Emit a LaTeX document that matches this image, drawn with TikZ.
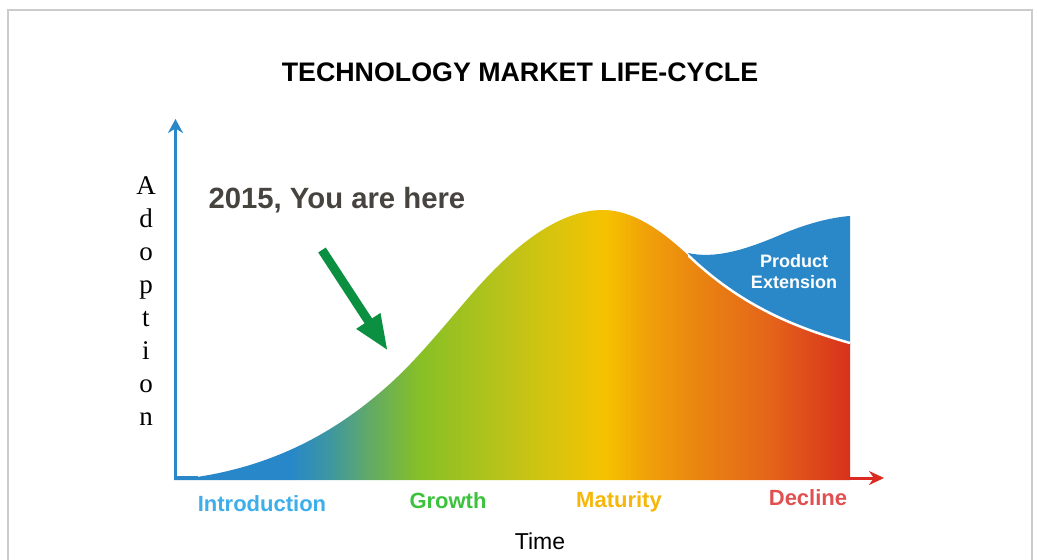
\documentclass[tikz,border=0pt]{standalone}
\usepackage{fontspec}
\setmainfont{Liberation Sans}
\newfontfamily\serifadopt{Liberation Serif}
\usetikzlibrary{arrows.meta}
\definecolor{axisblue}{HTML}{2A88C8}
\definecolor{axisred}{HTML}{DC2A20}
\definecolor{arrowgreen}{HTML}{0A9040}
\definecolor{framegray}{HTML}{CCCCCC}
\definecolor{herecol}{HTML}{474440}
\definecolor{introcol}{HTML}{3DAEE9}
\definecolor{growcol}{HTML}{3CC23C}
\definecolor{matcol}{HTML}{F5B80A}
\definecolor{declcol}{HTML}{E05050}
\definecolor{extblue}{HTML}{2A88C8}
\definecolor{g0}{HTML}{2787C8}
\definecolor{g1}{HTML}{2787C8}
\definecolor{g2}{HTML}{3E97A0}
\definecolor{g3}{HTML}{62AA66}
\definecolor{g4}{HTML}{87C025}
\definecolor{g5}{HTML}{B7C31A}
\definecolor{g6}{HTML}{DCC40C}
\definecolor{g7}{HTML}{F6C200}
\definecolor{g8}{HTML}{F0A208}
\definecolor{g9}{HTML}{EA8610}
\definecolor{g10}{HTML}{E4641A}
\definecolor{g11}{HTML}{D8301C}
\tikzset{
  lbl/.style={font=\bfseries\fontsize{22}{26}\selectfont},
  axisline/.style={line width=3.5pt},
}
\newcommand{\lifecurve}{(197,477) .. controls (262,467) and (328,441) .. (393,381) .. controls (419,357) and (444,326) .. (470,296) .. controls (514,245) and (559,210) .. (603,210) .. controls (632,210) and (661,229.5) .. (690,257) .. controls (743,307) and (797,328) .. (850,343)}
\begin{document}
\begin{tikzpicture}[x=1pt,y=-1pt]
\useasboundingbox (0,0) rectangle (1037,560);
% frame
\draw[framegray, line width=2pt] (8,10) rectangle (1032,600);
% product extension (blue)
\fill[extblue] (688,253) .. controls (715,259) and (745,250) .. (780,235) .. controls (810,222) and (835,217) .. (850,216) -- (850,346) -- (688,346) -- cycle;
% main gradient area
\begin{scope}
\clip (197,477) .. controls (262,467) and (328,441) .. (393,381) .. controls (419,357) and (444,326) .. (470,296) .. controls (514,245) and (559,210) .. (603,210) .. controls (632,210) and (661,229.5) .. (690,257) .. controls (743,307) and (797,328) .. (850,343) -- (850,480) -- (174,480) -- (174,476.5) -- cycle;
\fill[g0] (170,200) rectangle (290,482);
\shade[left color=g1,right color=g2] (290,200) rectangle (330,482);
\shade[left color=g2,right color=g3] (330,200) rectangle (370,482);
\shade[left color=g3,right color=g4] (370,200) rectangle (420,482);
\shade[left color=g4,right color=g5] (420,200) rectangle (500,482);
\shade[left color=g5,right color=g6] (500,200) rectangle (560,482);
\shade[left color=g6,right color=g7] (560,200) rectangle (605,482);
\shade[left color=g7,right color=g8] (605,200) rectangle (645,482);
\shade[left color=g8,right color=g9] (645,200) rectangle (695,482);
\shade[left color=g9,right color=g10] (695,200) rectangle (770,482);
\shade[left color=g10,right color=g11] (770,200) rectangle (851,482);
\end{scope}
% white separating line
\begin{scope}
\clip (688,0) rectangle (851,600);
\draw[white, line width=2.5pt] (603,210) .. controls (632,210) and (661,229.5) .. (690,257) .. controls (743,307) and (797,328) .. (850,343);
\end{scope}
% axes
\coordinate (O) at (175.5,478);
\coordinate (ytop) at (175.5,119);
\coordinate (xs) at (198,478);
\coordinate (xe) at (849,478);
\coordinate (xtip) at (884,478);
\draw[axisblue, axisline, -{Stealth[length=14pt,width=15pt]}] (O) -- (ytop);
\draw[axisblue, axisline] ([xshift=-1.75pt]O) -- (xs);
\draw[axisred, line width=3pt, -{Stealth[length=15pt,width=14pt]}] (xe) -- (xtip);
% green arrow
\coordinate (ga) at (322,250);
\coordinate (gb) at (388,351);
\draw[arrowgreen, line width=9pt, -{Triangle[length=36pt,width=26pt]}] (ga) -- (gb);
% texts
\node (title) at (520,72) {\bfseries\fontsize{26.8}{30}\selectfont TECHNOLOGY MARKET LIFE-CYCLE};
\node[anchor=west, text=herecol] (here) at (205,200) {\bfseries\fontsize{29.3}{33}\selectfont 2015, You are here};
\node[align=center, font=\serifadopt\fontsize{27}{33}\selectfont, inner sep=0pt] (adopt) at (146,301) {A\\d\\o\\p\\t\\i\\o\\n};
\node[text=white, align=center, font=\bfseries\fontsize{18}{21}\selectfont] (ext) at (794,272) {Product\\Extension};
\node[lbl, text=introcol] (intro) at (262,504) {Introduction};
\node[lbl, text=growcol] (grow) at (448,501) {Growth};
\node[lbl, text=matcol] (mat) at (619,502) {Maturity};
\node[lbl, text=declcol] (decl) at (808,498) {Decline};
\node[font=\fontsize{23}{27}\selectfont] (time) at (540,541) {Time};
\end{tikzpicture}
\end{document}
